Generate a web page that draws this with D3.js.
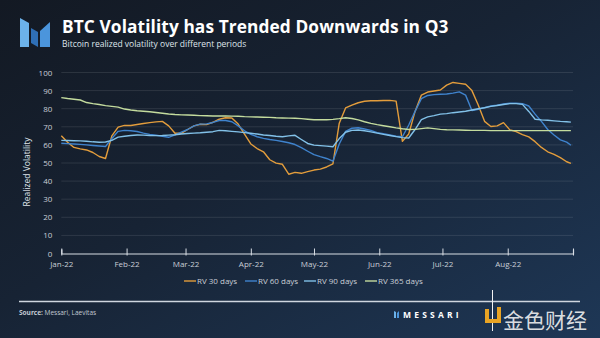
<!DOCTYPE html>
<html>
<head>
<meta charset="utf-8">
<script src="https://cdn.jsdelivr.net/npm/d3@7"></script>
<style>
    html, body { margin: 0; padding: 0; background: #151c28; }
    svg { display: block; font-family: "Open Sans", sans-serif; }
</style>
</head>
<body>
<div id="chart"></div>
<script>
// sample dates: every third day from Jan 1 plus Aug 31
const sampleDates = d3.timeDay.range(new Date(2022, 0, 1), new Date(2022, 8, 1), 3)
    .concat([new Date(2022, 7, 31)]);

const rv30 = [
    65.1, 61.5, 58.6, 57.8, 57.2, 55.8, 53.6, 52.5, 65.0, 69.8,
    70.8, 70.7, 71.3, 71.8, 72.3, 72.7, 73.0, 70.5, 66.4, 66.4,
    68.5, 70.5, 71.4, 71.2, 72.5, 74.2, 75.0, 74.9, 71.5, 66.0,
    60.5, 58.0, 56.2, 51.8, 49.9, 49.3, 43.8, 44.8, 44.3, 45.2,
    46.1, 46.6, 47.8, 49.5, 72.0, 80.4, 82.0, 83.3, 84.1, 84.4,
    84.4, 84.5, 84.6, 84.2, 62.0, 66.0, 78.5, 87.5, 89.2, 89.8,
    90.3, 93.0, 94.5, 94.0, 93.5, 90.0, 82.0, 73.0, 70.2, 70.5,
    72.3, 68.3, 67.4, 65.7, 64.4, 61.8, 58.6, 56.2, 54.8, 53.0,
    50.7, 49.8
];

const rv60 = [
    60.9, 60.7, 60.5, 60.3, 60.0, 59.7, 59.4, 59.1, 63.5, 67.5,
    68.0, 67.8, 67.4, 66.5, 65.8, 65.3, 64.8, 64.2, 65.5, 67.0,
    68.5, 70.5, 71.5, 71.6, 72.4, 73.5, 73.5, 72.8, 70.5, 67.8,
    65.8, 64.5, 63.6, 63.0, 62.5, 61.9, 61.2, 60.2, 58.5, 56.5,
    54.6, 53.5, 52.5, 51.0, 60.5, 67.5, 69.2, 69.5, 68.8, 68.0,
    66.8, 66.2, 65.5, 64.8, 64.5, 71.0, 78.5, 85.5, 87.3, 87.8,
    88.0, 88.1, 88.6, 89.3, 87.5, 79.0, 79.6, 80.6, 81.5, 82.0,
    82.6, 83.0, 83.0, 82.8, 81.5, 77.0, 73.0, 68.5, 65.5, 62.8,
    61.5, 59.8
];

const rv90 = [
    62.5, 62.4, 62.3, 62.2, 62.0, 61.7, 61.5, 61.6, 62.5, 64.3,
    64.8, 65.2, 65.5, 65.4, 65.2, 65.1, 65.2, 65.4, 65.6, 66.0,
    66.3, 66.5, 66.7, 67.0, 67.3, 68.0, 67.8, 67.5, 67.2, 66.8,
    66.4, 66.0, 65.5, 65.2, 64.8, 64.5, 65.0, 65.3, 63.0, 60.8,
    59.9, 59.6, 59.3, 59.0, 63.5, 67.0, 68.0, 68.2, 67.8, 67.2,
    66.5, 65.8, 65.2, 64.6, 64.0, 63.8, 68.5, 74.0, 75.5, 76.2,
    77.0, 77.3, 77.8, 78.2, 78.6, 79.3, 80.0, 80.5, 81.3, 81.8,
    82.3, 82.8, 82.8, 82.4, 78.5, 74.2, 73.8, 73.6, 73.3, 73.0,
    72.8, 72.6
];

const rv365 = [
    86.1, 85.6, 85.2, 84.8, 83.4, 82.8, 82.3, 81.7, 81.3, 80.9,
    79.8, 79.3, 78.9, 78.6, 78.3, 77.9, 77.5, 77.1, 76.8, 76.6,
    76.5, 76.4, 76.2, 76.1, 76.0, 76.0, 76.0, 75.9, 75.8, 75.6,
    75.5, 75.4, 75.3, 75.2, 75.0, 74.9, 74.8, 74.7, 74.5, 74.2,
    73.9, 73.9, 73.9, 74.1, 74.5, 75.0, 74.6, 73.8, 72.8, 71.9,
    71.2, 70.6, 70.0, 69.4, 68.9, 68.5, 68.6, 69.0, 69.4, 69.0,
    68.6, 68.4, 68.3, 68.2, 68.1, 68.0, 68.0, 68.0, 67.9, 67.9,
    67.9, 67.9, 67.9, 67.9, 67.9, 67.9, 67.9, 67.9, 67.9, 67.9,
    67.9, 67.9
];

const seriesNames = ["RV 30 days", "RV 60 days", "RV 90 days", "RV 365 days"];
const seriesValues = [rv30, rv60, rv90, rv365];
const seriesColors = ["#e39d3c", "#3f83cd", "#82c1e8", "#c4dc9e"];
const yTicks = [0, 10, 20, 30, 40, 50, 60, 70, 80, 90, 100];

const width = 600, height = 338;
const plot = {left: 61.3, right: 573, top: 72.5, bottom: 253.5};

const svg = d3.select("#chart")
    .append("svg")
    .attr("width", width)
    .attr("height", height);

// background
const defs = svg.append("defs");
const bg = defs.append("linearGradient")
    .attr("id", "bg")
    .attr("x1", "0%").attr("y1", "0%")
    .attr("x2", "100%").attr("y2", "100%");
bg.append("stop").attr("offset", "0%").attr("stop-color", "#131923");
bg.append("stop").attr("offset", "45%").attr("stop-color", "#172334");
bg.append("stop").attr("offset", "100%").attr("stop-color", "#1e3756");
svg.append("rect")
    .attr("width", width)
    .attr("height", height)
    .attr("fill", "url(#bg)");

// logo: three slanted bars
const logo = svg.append("g").attr("transform", "translate(20, 18)");
logo.append("polygon").attr("points", "0,0 9,5 9,29 0,29").attr("fill", "#6cb2ea");
logo.append("polygon").attr("points", "11,10 18,14 18,29 11,25").attr("fill", "#2f6fb6");
logo.append("polygon").attr("points", "20,13 30,4 30,29 20,29").attr("fill", "#4b95dc");

svg.append("text")
    .attr("x", 62)
    .attr("y", 33)
    .attr("fill", "#ffffff")
    .style("font-size", "17.3px")
    .style("font-weight", 700)
    .style("letter-spacing", "0.1px")
    .text("BTC Volatility has Trended Downwards in Q3");

svg.append("text")
    .attr("x", 62)
    .attr("y", 47)
    .attr("fill", "#dfe4ea")
    .style("font-size", "8.5px")
    .text("Bitcoin realized volatility over different periods");

// scales
const x = d3.scaleTime()
    .domain([new Date(2022, 0, 1), new Date(2022, 8, 1)])
    .range([plot.left, plot.right]);

const y = d3.scaleLinear()
    .domain([0, 100])
    .range([plot.bottom, plot.top]);

// grid lines
svg.append("g")
    .selectAll("line")
    .data(yTicks.filter(d => d > 0))
    .join("line")
    .attr("x1", plot.left)
    .attr("x2", plot.right)
    .attr("y1", d => y(d))
    .attr("y2", d => y(d))
    .attr("stroke", "#ffffff")
    .attr("stroke-opacity", 0.1)
    .attr("stroke-width", 1);

// y axis labels
const yAxis = svg.append("g")
    .attr("transform", `translate(${plot.left}, 0)`)
    .call(d3.axisLeft(y).tickValues(yTicks).tickSize(0).tickPadding(9));
yAxis.select(".domain").remove();
yAxis.selectAll("text")
    .attr("fill", "#c9ced6")
    .style("font-size", "8px")
    .style("font-family", "\"Open Sans\", sans-serif");

svg.append("text")
    .attr("transform", "translate(30, 172) rotate(-90)")
    .attr("text-anchor", "middle")
    .attr("fill", "#dfe4ea")
    .style("font-size", "8.5px")
    .text("Realized Volatility");

// x axis
const xAxis = svg.append("g")
    .attr("transform", `translate(0, ${plot.bottom})`)
    .call(d3.axisBottom(x)
        .ticks(d3.timeMonth.every(1))
        .tickSize(-4)
        .tickPadding(8)
        .tickFormat(d => d.getMonth() === 8 ? "" : d3.timeFormat("%b-%y")(d)));
xAxis.select(".domain")
    .attr("stroke", "#d8dde4")
    .attr("stroke-width", 1.2);
xAxis.selectAll(".tick line")
    .attr("stroke", "#d8dde4")
    .attr("y2", -5)
    .attr("y1", 2);
xAxis.selectAll("text")
    .attr("fill", "#c9ced6")
    .style("font-size", "8px")
    .style("font-family", "\"Open Sans\", sans-serif");

// series lines
const line = d3.line()
    .x((d, i) => x(sampleDates[i]))
    .y(d => y(d));

svg.append("g")
    .selectAll("path")
    .data(seriesValues)
    .join("path")
    .attr("d", d => line(d))
    .attr("fill", "none")
    .attr("stroke", (d, i) => seriesColors[i])
    .attr("stroke-width", 1.4)
    .attr("stroke-linejoin", "round");

// legend
const legendX = [184, 245, 304, 365];
const legend = svg.append("g")
    .selectAll("g")
    .data(seriesNames)
    .join("g")
    .attr("transform", (d, i) => `translate(${legendX[i]}, 281)`);
legend.append("line")
    .attr("x1", 0).attr("x2", 12)
    .attr("stroke", (d, i) => seriesColors[i])
    .attr("stroke-width", 1.4);
legend.append("text")
    .attr("x", 13)
    .attr("dy", "0.35em")
    .attr("fill", "#c9ced6")
    .style("font-size", "8px")
    .text(d => d);

// footer
svg.append("line")
    .attr("x1", 19).attr("x2", 580)
    .attr("y1", 301.5).attr("y2", 301.5)
    .attr("stroke", "#cfd6df")
    .attr("stroke-width", 1.4);

const source = svg.append("text")
    .attr("x", 19)
    .attr("y", 315)
    .attr("fill", "#c3cad3")
    .style("font-size", "6.5px");
source.append("tspan").style("font-weight", 700).text("Source:");
source.append("tspan").text(" Messari, Laevitas");

const brand = svg.append("g").attr("transform", "translate(394, 315)");
brand.append("polygon").attr("points", "0,-4 2,-3 2,3 0,3").attr("fill", "#6cb2ea");
brand.append("polygon").attr("points", "3,-2 5,-4 5,3 3,3").attr("fill", "#4b95dc");
brand.append("text")
    .attr("x", 9)
    .attr("y", 3.2)
    .attr("fill", "#ffffff")
    .style("font-size", "8.5px")
    .style("font-weight", 700)
    .style("letter-spacing", "3.2px")
    .text("MESSARI");

// 金色财经 mark
const mark = svg.append("g");
mark.append("line")
    .attr("x1", 492.5).attr("x2", 492.5)
    .attr("y1", 290).attr("y2", 331)
    .attr("stroke", "#f2f2f2")
    .attr("stroke-width", 1);
mark.append("path")
    .attr("d", "M485,309 h4 v10 h8 v-12 h4 v16 h-16 z")
    .attr("fill", "#e9a424");
mark.append("text")
    .attr("x", 503)
    .attr("y", 328)
    .attr("fill", "#f4f4f4")
    .attr("fill-opacity", 0.9)
    .style("font-size", "21px")
    .style("font-family", "\"Noto Sans CJK SC\", sans-serif")
    .text("金色财经");
</script>
</body>
</html>
